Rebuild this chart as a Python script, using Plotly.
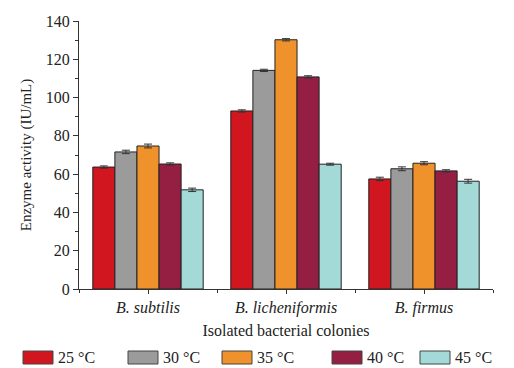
import plotly.graph_objects as go

categories = ["B. subtilis", "B. licheniformis", "B. firmus"]
temps = ["25 °C", "30 °C", "35 °C", "40 °C", "45 °C"]
vals_25 = [63.7, 93.0, 57.5]
vals_30 = [71.6, 114.2, 62.8]
vals_35 = [74.7, 130.2, 65.7]
vals_40 = [65.3, 110.8, 61.7]
vals_45 = [51.8, 65.2, 56.3]
err_25 = [0.6, 0.6, 0.9]
err_30 = [0.9, 0.6, 1.0]
err_35 = [1.0, 0.6, 0.8]
err_40 = [0.6, 0.6, 0.6]
err_45 = [0.9, 0.5, 1.0]
colors = ["#D2161F", "#9B9B9B", "#F0922B", "#941F43", "#A3DAD7"]

series = [vals_25, vals_30, vals_35, vals_40, vals_45]
errors = [err_25, err_30, err_35, err_40, err_45]
xpos = list(range(len(categories)))

FONT = "Liberation Serif"
fig = go.Figure()
for name, v, e, c in zip(temps, series, errors, colors):
    fig.add_trace(go.Bar(
        x=xpos, y=v, name=name, marker=dict(color=c, line=dict(color="#222222", width=1)),
        error_y=dict(type="data", array=e, visible=True, color="#333333", thickness=1, width=4),
        showlegend=False,
    ))

# custom legend (boxes + labels) in paper coordinates
L, R, T, B = 79, 21, 21, 79
W, H = 514, 368
pw, ph = W - L - R, H - T - B
box_x = [23, 128, 222, 332, 420]
for bx, name, c in zip(box_x, temps, colors):
    x0 = (bx - L) / pw
    x1 = (bx + 30 - L) / pw
    y0 = (H - B - 364) / ph
    y1 = (H - B - 351) / ph
    fig.add_shape(type="rect", xref="paper", yref="paper", x0=x0, x1=x1, y0=y0, y1=y1,
                  fillcolor=c, line=dict(color="#444444", width=1))
    fig.add_annotation(xref="paper", yref="paper", x=(bx + 33 - L) / pw, y=(H - B - 357.5) / ph,
                       text=name, showarrow=False, xanchor="left", yanchor="middle",
                       font=dict(family=FONT, size=16, color="#222222"))

fig.update_layout(
    width=W, height=H, margin=dict(l=L, r=R, t=T, b=B),
    barmode="group", bargap=0.2, bargroupgap=0,
    paper_bgcolor="white", plot_bgcolor="white",
    font=dict(family=FONT, size=16, color="#222222"),
    xaxis=dict(
        range=[-0.5, 2.5], tickmode="array", tickvals=xpos,
        ticktext=["<i>%s</i>" % c for c in categories],
        showline=True, linecolor="#333333", linewidth=1,
        ticks="outside", ticklen=4, tickcolor="#333333",
        minor=dict(tickmode="array", tickvals=[-0.5, 0.5, 1.5, 2.5], ticks="outside", ticklen=3, tickcolor="#333333"),
        showgrid=False, zeroline=False,
        tickfont=dict(family=FONT, size=16),
        title=dict(text="Isolated bacterial colonies", font=dict(family=FONT, size=16), standoff=8),
    ),
    yaxis=dict(
        range=[0, 140], tickmode="array", tickvals=[0, 20, 40, 60, 80, 100, 120, 140],
        showline=True, linecolor="#333333", linewidth=1,
        ticks="outside", ticklen=5, tickcolor="#333333",
        minor=dict(tickmode="array", tickvals=[10, 30, 50, 70, 90, 110, 130], ticks="outside", ticklen=3, tickcolor="#333333"),
        showgrid=False, zeroline=False,
        tickfont=dict(family=FONT, size=16),
        title=dict(text="Enzyme activity (IU/mL)", font=dict(family=FONT, size=15), standoff=10),
    ),
)
fig.write_html("out.html", config={"displayModeBar": False},
               post_script="document.body.style.margin='0';document.body.style.overflow='hidden';")
